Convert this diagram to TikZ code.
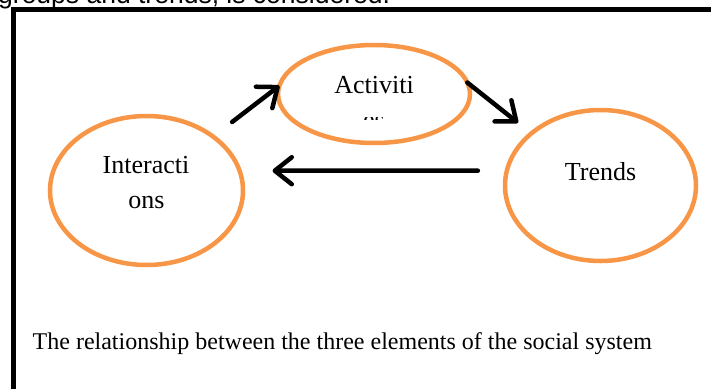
\documentclass[tikz,border=0pt]{standalone}
\usepackage{fontspec}
\setmainfont{Liberation Serif}
\newfontfamily\arialfont{Liberation Sans}
\usetikzlibrary{shapes.geometric, arrows.meta}
\definecolor{elemorange}{HTML}{F79646}
\tikzset{
  elem/.style={ellipse, draw=elemorange, line width=4.5pt, outer sep=0pt, inner sep=0pt},
  arr/.style={line width=4.5pt, line cap=round,
    -{Straight Barb[length=17pt, width=27pt, line join=round, line cap=round]}},
  lbl/.style={font=\fontsize{26}{35}\selectfont, inner sep=0pt, anchor=base}
}

\begin{document}
\begin{tikzpicture}[x=1pt, y=-1pt]
\useasboundingbox (0,0) rectangle (711,388);

% line of the page above the box
\begin{scope}
\clip (0,0) rectangle (711,20);
\node[font=\arialfont\fontsize{26.5}{30}\selectfont, inner sep=0pt, anchor=base west] (prev) at (-2,4) {groups and trends, is considered.};
\end{scope}

% box
\draw[line width=5pt] (13.5,392) -- (13.5,9) -- (716,9);

\node[elem, minimum width=193pt, minimum height=149pt] (int) at (146.5,190.5) {};
\node[elem, minimum width=192pt, minimum height=98pt] (act) at (374,94) {};
\node[elem, minimum width=191pt, minimum height=151pt] (trd) at (600.5,185.5) {};

\node[lbl] (intA) at (146,173) {Interacti};
\node[lbl] (intB) at (146.5,208) {ons};
\node[lbl] (actA) at (374,93) {Activiti};
\begin{scope}
\clip (340,117) rectangle (410,119);
\node[lbl] (actB) at (374,128) {es};
\end{scope}
\node[lbl] (trdA) at (600.5,180) {Trends};

\path[arr] (int.39) edge[shorten <=24pt] (act.175)
           (act.7) edge[shorten >=17pt] (trd.143)
           (trd.171) edge[shorten <=29pt, shorten >=33pt] (int.12);

\node[font=\fontsize{24}{28}\selectfont, inner sep=0pt, anchor=base west] (cap) at (32.5,349) {The relationship between the three elements of the social system};
\end{tikzpicture}
\end{document}
